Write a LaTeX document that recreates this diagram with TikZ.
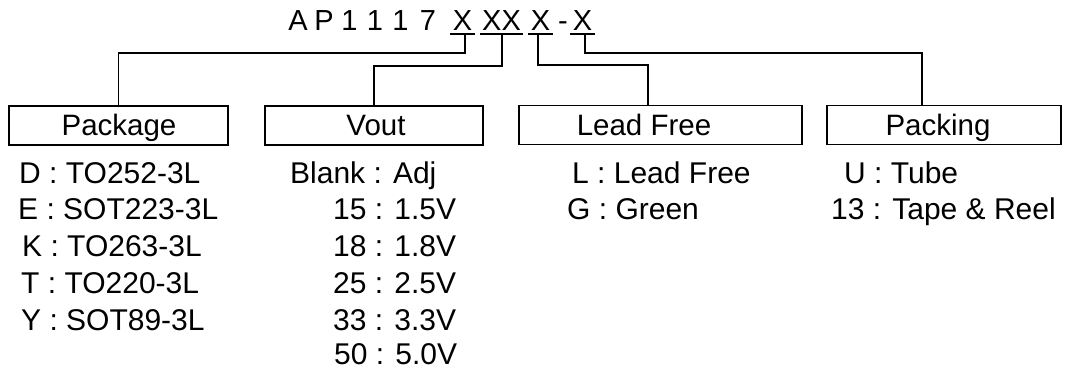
\documentclass[tikz,border=0pt]{standalone}
\usepackage{fontspec}
\setmainfont{Liberation Sans}
\begin{document}
\begin{tikzpicture}[x=1pt,y=-1pt,
  box/.style={draw, line width=1.6pt, minimum height=39pt, inner sep=0pt},
  lbl/.style={font=\fontsize{29.5}{30}\selectfont, anchor=base, inner sep=0pt},
  item/.style={font=\fontsize{30}{31}\selectfont, anchor=base west, inner sep=0pt},
  ttl/.style={font=\fontsize{29}{30}\selectfont, anchor=base, inner sep=0pt},
  conn/.style={line width=1.3pt},
  ul/.style={line width=2pt}]
\useasboundingbox (0,0) rectangle (1065,369);
% title
\node[ttl] (tA) at (298,30.5) {A};
\node[ttl] (tP) at (324,30.5) {P};
\node[ttl] (t1a) at (349.5,30.5) {1};
\node[ttl] (t1b) at (375,30.5) {1};
\node[ttl] (t1c) at (400.5,30.5) {1};
\node[ttl] (t7) at (428,30.5) {7};
\node[ttl] (x1) at (462.5,30.5) {X};
\node[ttl] (x2) at (501.5,30.5) {XX};
\node[ttl] (x3) at (540.5,30.5) {X};
\node[ttl] (dash) at (563,30.5) {-};
\node[ttl] (x4) at (582.5,30.5) {X};
% underlines
\draw[ul] (x1.base) ++(-12.5,4) -- ++(25,0);
\draw[ul] (x2.base) ++(-21.5,4) -- ++(43,0);
\draw[ul] (x3.base) ++(-12.5,4) -- ++(25,0);
\draw[ul] (x4.base) ++(-12.5,4) -- ++(25,0);
% boxes
\node[box, minimum width=219pt] (pkg) at (118.5,125.5) {};
\node[box, minimum width=218pt] (vout) at (374,125.5) {};
\node[box, minimum width=283pt] (lf) at (660.5,125) {};
\node[box, minimum width=234pt] (pack) at (944,125) {};
\node[lbl] (pkgt) at (119,135.5) {Package};
\node[lbl] (voutt) at (376,135.5) {Vout};
\node[lbl] (lft) at (644,135.5) {Lead Free};
\node[lbl] (packt) at (938,135.5) {Packing};
% connectors
\draw[conn] (x1.base) ++(2.5,4) -- ++(0,18.5) -| (pkg.north);
\draw[conn] (x2.base) ++(0.5,4) -- ++(0,31.5) -| (vout.north);
\draw[conn] (x3.base) ++(-2.5,4) -- ++(0,30.5) -| ([xshift=-12.5pt]lf.north);
\draw[conn] (x4.base) ++(2.5,4) -- ++(0,18.5) -| ([xshift=-22pt]pack.north);
% package items
\node[item] (p1) at (19,183) {D : TO252-3L};
\node[item] (p2) at (18,219) {E : SOT223-3L};
\node[item] (p3) at (22,256) {K : TO263-3L};
\node[item] (p4) at (21,293) {T : TO220-3L};
\node[item] (p5) at (21,330) {Y : SOT89-3L};
% vout items
\node[item] (v1) at (290,183) {Blank : Adj};
\node[item] (v2) at (333,219) {15 : 1.5V};
\node[item] (v3) at (333,256) {18 : 1.8V};
\node[item] (v4) at (333,293) {25 : 2.5V};
\node[item] (v5) at (333,330) {33 : 3.3V};
\node[item] (v6) at (334,364.5) {50 : 5.0V};
% lead free items
\node[item] (l1) at (572,183) {L : Lead Free};
\node[item] (l2) at (567,219) {G : Green};
% packing items
\node[item] (k1) at (844,183) {U : Tube};
\node[item] (k2) at (831,219) {13 : Tape \& Reel};
\end{tikzpicture}
\end{document}
